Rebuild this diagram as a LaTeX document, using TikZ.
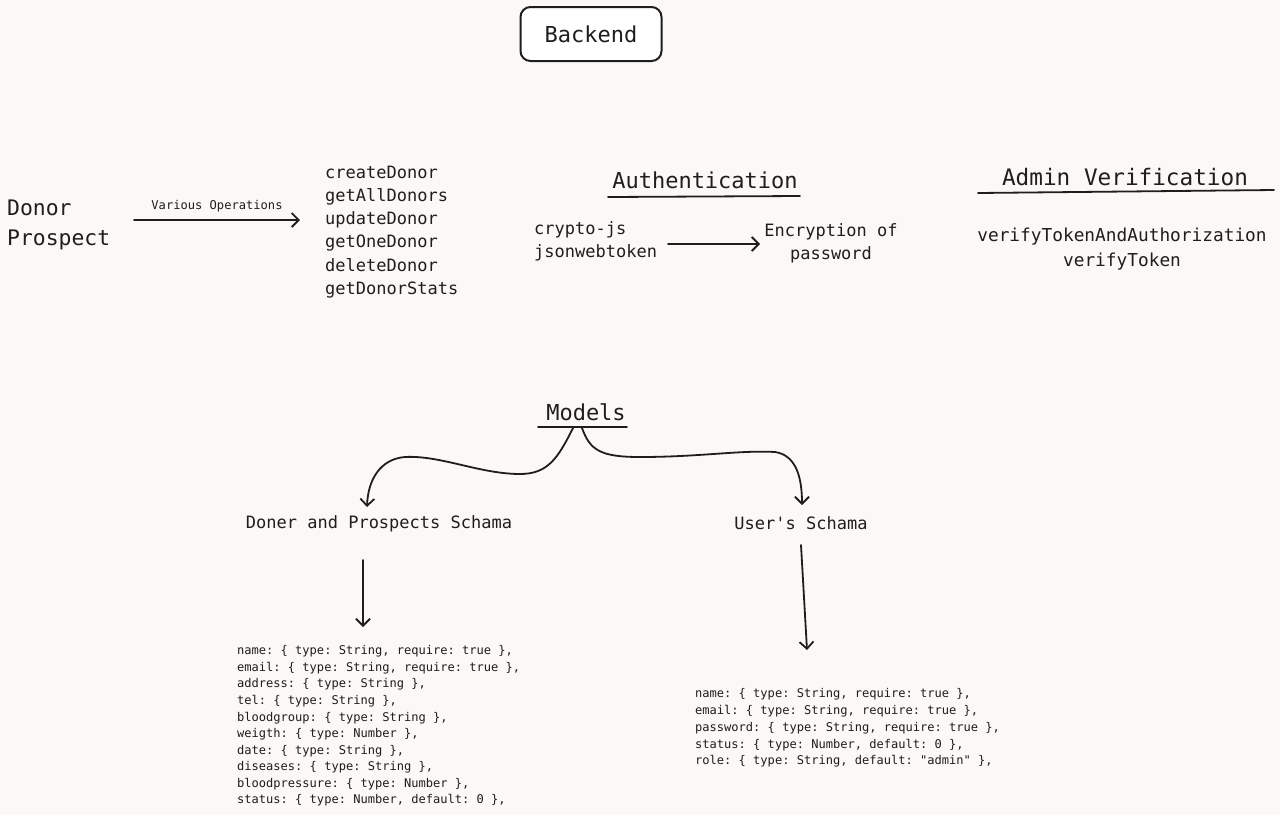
\documentclass[tikz,border=0pt]{standalone}
\usepackage{fontspec}
\setmonofont{DejaVu Sans Mono}
\usetikzlibrary{arrows.meta}
\definecolor{bg}{RGB}{252,248,245}
\definecolor{ink}{RGB}{30,30,30}
\newcommand{\fs}[2]{\ttfamily\fontsize{#1}{#2}\selectfont}
\begin{document}
\begin{tikzpicture}[x=1pt,y=-1pt,
  txt/.style={inner sep=0pt, text=ink},
  conn/.style={draw=ink, line width=1.8pt, line cap=round, -{Straight Barb[length=7pt,width=14pt,line width=1.8pt]}},
  uline/.style={draw=ink, line width=1.8pt, line cap=round},
  boxed/.style={draw=ink, line width=2pt, rounded corners=10pt, fill=white, minimum width=141pt, minimum height=54pt, text=ink}
]
\fill[bg] (0,0) rectangle (1280,815);
\useasboundingbox (0,0) rectangle (1280,815);

% Backend
\node[boxed, font={\fs{22}{26}}] (backend) at (591,34) {Backend};

% Donor prospect
\node[txt, anchor=west, align=left, font={\fs{21.4}{30}}] (donor) at (7,225) {Donor\\Prospect};
\node[txt, anchor=west, align=left, font={\fs{17}{23.2}}] (ops) at (325,232) {createDonor\\getAllDonors\\updateDonor\\getOneDonor\\deleteDonor\\getDonorStats};
\coordinate (opsA) at (134,220);
\coordinate (opsB) at (300,220);
\draw[conn] (opsA) -- node[txt, above=7pt, font={\fs{12.1}{14}}] (vop) {Various Operations} (opsB);

% Authentication
\node[txt, font={\fs{22}{26}}] (auth) at (705,180) {Authentication};
\draw[uline] (608,197) -- (800,196);
\node[txt, anchor=west, align=left, font={\fs{17}{23}}] (libs) at (534,241) {crypto-js\\jsonwebtoken};
\node[txt, align=center, font={\fs{17}{23}}] (enc) at (831,243) {Encryption of\\password};
\coordinate (encA) at (668,244);
\coordinate (encB) at (760,244);
\draw[conn] (encA) -- (encB);

% Admin verification
\node[txt, font={\fs{22.7}{26}}] (admin) at (1125,177) {Admin Verification};
\draw[uline] (978,193) -- (1274,190);
\node[txt, align=center, font={\fs{17.8}{25}}] (verify) at (1122,249) {verifyTokenAndAuthorization\\verifyToken};

% Models
\node[txt, font={\fs{22}{26}}] (models) at (586,412) {Models};
\draw[uline] (538,427) -- (627,427);
\coordinate (mL) at (573,428);
\coordinate (mR) at (582,428);
\node[txt, font={\fs{17}{20}}] (dps) at (379,524) {Doner and Prospects Schama};
\node[txt, font={\fs{17}{20}}] (us) at (801,523) {User's Schama};
\coordinate (dpsTip) at (367,507);
\coordinate (usTip) at (802,505);
\draw[conn] (mL) .. controls (558,458) and (548,474) .. (520,474)
  .. controls (480,474) and (440,455) .. (405,457)
  .. controls (380,459) and (368,480) .. (dpsTip);
\draw[conn] (mR) .. controls (590,450) and (600,457) .. (640,457)
  .. controls (700,457) and (740,450) .. (775,452)
  .. controls (795,455) and (802,475) .. (usTip);

% Schema fields
\node[txt, anchor=north west, align=left, font={\fs{12.05}{16.55}}] (dfields) at (237,645.5) {%
name: \{ type: String, require: true \},\\
email: \{ type: String, require: true \},\\
address: \{ type: String \},\\
tel: \{ type: String \},\\
bloodgroup: \{ type: String \},\\
weigth: \{ type: Number \},\\
date: \{ type: String \},\\
diseases: \{ type: String \},\\
bloodpressure: \{ type: Number \},\\
status: \{ type: Number, default: 0 \},};
\node[txt, anchor=north west, align=left, font={\fs{12.05}{16.75}}] (ufields) at (695,688.5) {%
name: \{ type: String, require: true \},\\
email: \{ type: String, require: true \},\\
password: \{ type: String, require: true \},\\
status: \{ type: Number, default: 0 \},\\
role: \{ type: String, default: "admin" \},};

\coordinate (dA) at (363,560);
\coordinate (dB) at (363,627);
\coordinate (uA) at (801,545);
\coordinate (uB) at (807,650);
\draw[conn] (dA) -- (dB);
\draw[conn] (uA) -- (uB);
\end{tikzpicture}
\end{document}
